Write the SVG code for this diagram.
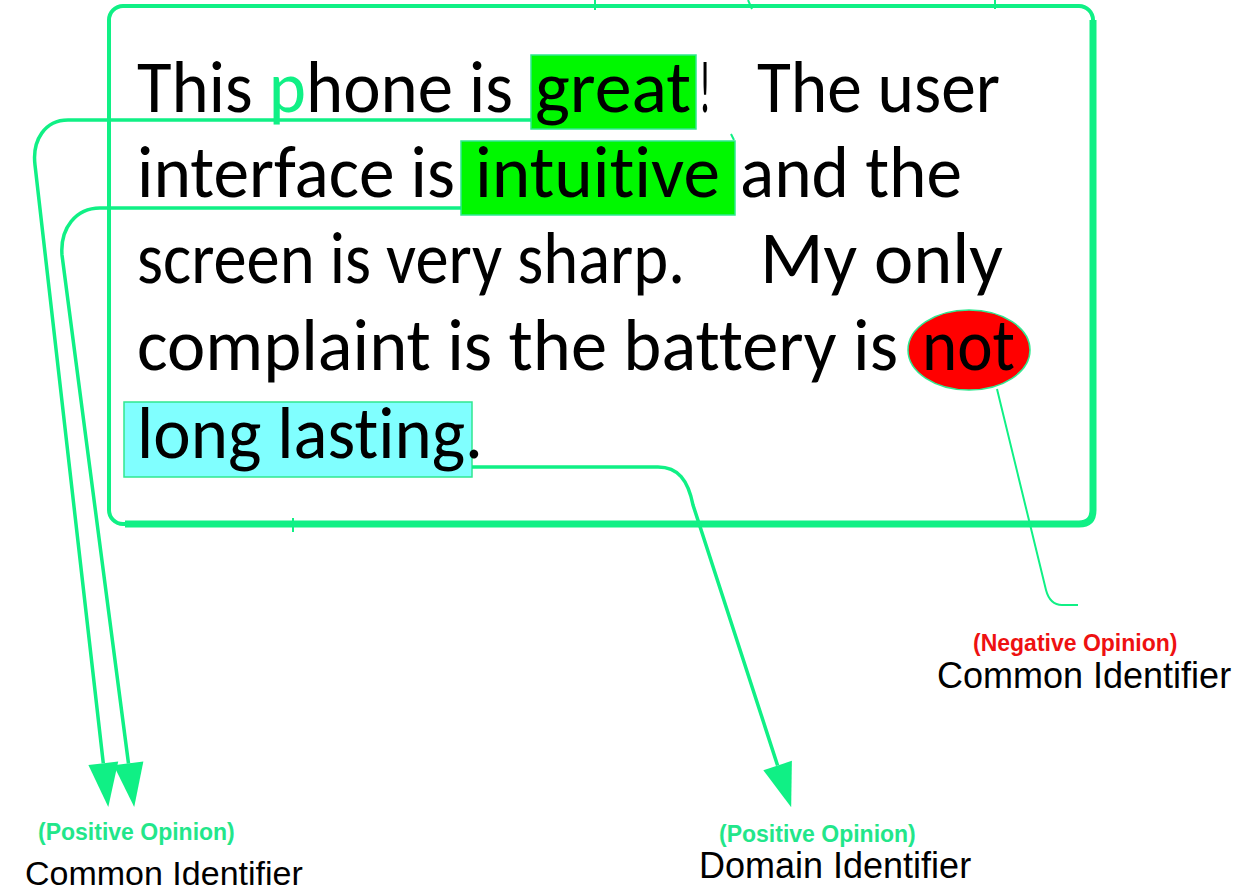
<svg xmlns="http://www.w3.org/2000/svg" width="1238" height="895" viewBox="0 0 1238 895">
<defs>
<style>
.body{font-family:Carlito,Lato,"Liberation Sans",sans-serif;font-size:74px;fill:#000;font-variant-ligatures:none}
.lbl{font-family:"Liberation Sans",Arial,sans-serif;fill:#000}
.op{font-family:"Liberation Sans",Arial,sans-serif;font-weight:bold;font-size:23px}
.conn{fill:none;stroke:#10F085;stroke-width:3.5}
.hl{stroke:#30E890;stroke-width:1.5}
</style>
<marker id="ah" markerUnits="userSpaceOnUse" markerWidth="60" markerHeight="60" refX="0" refY="0" orient="auto" overflow="visible">
<path d="M0,-15 L44,0 L0,15 z" fill="#10F085"/>
</marker>
</defs>
<rect width="1238" height="895" fill="#fff"/>

<g id="frame">
<rect x="109" y="6" width="984" height="518" rx="14" fill="none" stroke="#10F085" stroke-width="4"/>
<path d="M1093 20 V510 Q1093 524 1079 524 H125" fill="none" stroke="#10F085" stroke-width="7"/>
<path d="M595 0 V10 M748 0 L752 9 M995 0 V9 M293 518 V532 M731 134 L734 140" stroke="#10F085" stroke-width="2" fill="none"/>
</g>

<g id="highlights">
<rect id="great-box" class="hl" x="531" y="55" width="165" height="74" fill="#00F800"/>
<rect id="intuitive-box" class="hl" x="461" y="141" width="274" height="74" fill="#00F800"/>
<rect id="long-box" class="hl" x="124" y="402" width="348" height="75" fill="#80FFFF"/>
<ellipse id="not-ell" class="hl" cx="969" cy="350" rx="61" ry="40" fill="#FF0000"/>
</g>

<g id="connectors">
<path class="conn" d="M531 120 H68 C45 120 32 140 35 165 L103.3 763.3" marker-end="url(#ah)"/>
<path class="conn" d="M461 208 H100 C76 208 60 228 62 255 L128.5 763.4" marker-end="url(#ah)"/>
<path class="conn" d="M472 467 H658 C678 467 688 480 693 505 L777.6 765.5" marker-end="url(#ah)"/>
<path d="M997 389 L1046 590 Q1050 605 1062 605 H1078" fill="none" stroke="#10F085" stroke-width="2"/>
</g>

<g id="review-text">
<text class="body" x="137" y="112" textLength="376" lengthAdjust="spacingAndGlyphs">This <tspan style="fill:#10F085">p</tspan>hone is</text>
<text class="body" x="535" y="112" textLength="156" lengthAdjust="spacingAndGlyphs">great</text>
<text class="body" x="699" y="112" textLength="12" lengthAdjust="spacingAndGlyphs">!</text>
<text class="body" x="757" y="112" textLength="243" lengthAdjust="spacingAndGlyphs">The user</text>

<text class="body" x="137" y="197" textLength="318" lengthAdjust="spacingAndGlyphs">interface is</text>
<text class="body" x="475" y="197" textLength="245" lengthAdjust="spacingAndGlyphs">intuitive</text>
<text class="body" x="740" y="197" textLength="222" lengthAdjust="spacingAndGlyphs">and the</text>

<text class="body" x="137" y="283" textLength="548" lengthAdjust="spacingAndGlyphs">screen is very sharp.</text>
<text class="body" x="760" y="283" textLength="243" lengthAdjust="spacingAndGlyphs">My only</text>

<text class="body" x="137" y="370" textLength="761" lengthAdjust="spacingAndGlyphs">complaint is the battery is</text>
<text class="body" x="922" y="370" textLength="93" lengthAdjust="spacingAndGlyphs">not</text>

<text class="body" x="137" y="458" textLength="346" lengthAdjust="spacingAndGlyphs">long lasting.</text>
</g>

<g id="label-left">
<text class="op" x="38" y="840" fill="#22E68A">(Positive Opinion)</text>
<text class="lbl" x="25" y="885" font-size="34">Common Identifier</text>
</g>
<g id="label-domain">
<text class="op" x="719" y="842" fill="#22E68A">(Positive Opinion)</text>
<text class="lbl" x="699" y="878" font-size="36">Domain Identifier</text>
</g>
<g id="label-negative">
<text class="op" x="973" y="651" fill="#EE1111">(Negative Opinion)</text>
<text class="lbl" x="937" y="688" font-size="36">Common Identifier</text>
</g>
</svg>
